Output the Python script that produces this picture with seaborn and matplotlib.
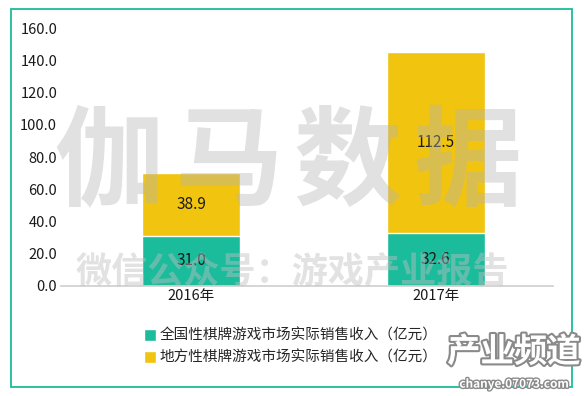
import matplotlib
matplotlib.use("Agg")
import matplotlib.pyplot as plt
import matplotlib.patheffects as pe
from matplotlib.patches import Rectangle
from matplotlib.lines import Line2D
import seaborn as sns
import pandas as pd

# 数据
years = ["2016年", "2017年"]
national = [31.0, 32.6]
local = [38.9, 112.5]
series_names = ["全国性棋牌游戏市场实际销售收入（亿元）", "地方性棋牌游戏市场实际销售收入（亿元）"]
y_ticks = [0, 20, 40, 60, 80, 100, 120, 140, 160]

green = "#1abc9c"
yellow = "#f1c40f"

sns.set_theme(style="white")
plt.rcParams["font.family"] = ["Noto Sans CJK SC", "DejaVu Sans"]

df = pd.DataFrame({"year": years, "national": national, "local": local})
df["total"] = df["national"] + df["local"]

fig = plt.figure(figsize=(5.84, 3.96), dpi=100)
ax = fig.add_axes([0.105, 0.278, 0.842, 0.651])

# 堆叠：先画总和，再画下层
sns.barplot(data=df, x="year", y="total", color=yellow, width=0.4, saturation=1, ax=ax)
sns.barplot(data=df, x="year", y="national", color=green, width=0.4, saturation=1, ax=ax)

for i, row in df.iterrows():
    ax.text(i, row["national"] / 2, f"{row['national']:.1f}", ha="center", va="center",
            fontsize=11, color="#1a1a1a", zorder=12)
    ax.text(i, row["national"] + row["local"] / 2, f"{row['local']:.1f}", ha="center",
            va="center", fontsize=11, color="#1a1a1a", zorder=12)

ax.set_ylim(0, 160)
ax.set_yticks(y_ticks)
ax.set_yticklabels([f"{v:.1f}" for v in y_ticks], fontsize=10.5, color="#1a1a1a")
ax.set_xlim(-0.53, 1.48)
ax.tick_params(axis="x", labelsize=10.5, colors="#1a1a1a", length=0, pad=2)
ax.tick_params(axis="y", length=0, pad=3)
ax.set_xlabel("")
ax.set_ylabel("")
for s in ["top", "right", "left"]:
    ax.spines[s].set_visible(False)
ax.spines["bottom"].set_color("#d0d0d0")
ax.grid(False)

# 水印
wm = "伽马数据"
for k, ch in enumerate(wm):
    fig.text((108 + k * 120) / 584, 0.583, ch, fontsize=78, color="#b4b4b4", alpha=0.4,
             ha="center", va="center", fontweight="bold", zorder=10)
fig.text(0.50, 0.313, "微信公众号：游戏产业报告", fontsize=26, color="#c0c0c0", alpha=0.45,
         ha="center", va="center", fontweight="bold", zorder=10)

# 图例
handles = [Line2D([0], [0], marker="s", color="w", markerfacecolor=c, markersize=8, linestyle="")
           for c in [green, yellow]]
fig.legend(handles, series_names, loc="upper left", bbox_to_anchor=(0.235, 0.185),
           frameon=False, fontsize=10.5, handletextpad=0.1, labelspacing=0.55,
           handlelength=1.0, borderaxespad=0)

# 外框
fig.patches.append(Rectangle((11 / 584, 9 / 396), 561 / 584, 378 / 396, transform=fig.transFigure,
                             fill=False, edgecolor=green, linewidth=1.3))

# 角标
fig.text(0.88, 0.11, "产业频道", fontsize=24, color="white", ha="center", va="center",
         fontweight="bold", zorder=11,
         path_effects=[pe.withStroke(linewidth=3, foreground="#8a8a8a")])
fig.text(0.88, 0.03, "chanye.07073.com", fontsize=8.5, color="white", ha="center", va="center",
         fontweight="bold", zorder=11,
         path_effects=[pe.withStroke(linewidth=2, foreground="#8a8a8a")])

fig.savefig("out.png", dpi=100)
